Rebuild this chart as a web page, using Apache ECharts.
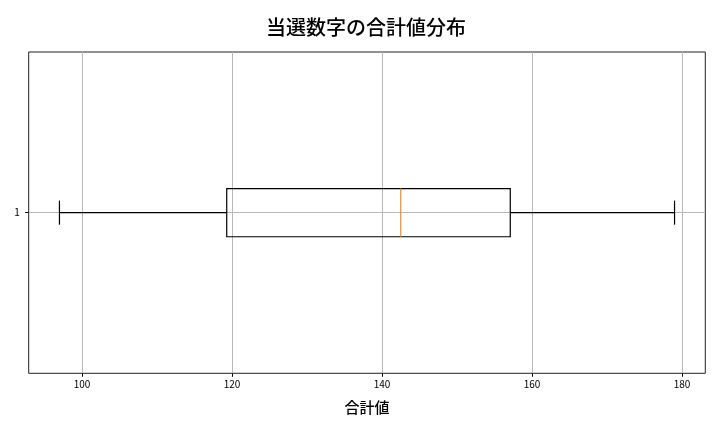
<!DOCTYPE html>
<html>
<head>
<meta charset="utf-8">
<script src="https://cdn.jsdelivr.net/npm/echarts@6/dist/echarts.min.js"></script>
<style>html,body{margin:0;padding:0;background:#fff}#c{width:720px;height:432px}</style>
</head>
<body>
<div id="c"></div>
<script>
var titleText = '当選数字の合計値分布';
var xAxisName = '合計値';
var categoryPos = [1];
var whiskerLow = [97];
var q1 = [119.3];
var median = [142.5];
var q3 = [157.1];
var whiskerHigh = [179];
var xTicks = [100, 120, 140, 160, 180];

var data = categoryPos.map(function (p, i) {
  return [p, whiskerLow[i], q1[i], median[i], q3[i], whiskerHigh[i]];
});

var chart = echarts.init(document.getElementById('c'));
var font = '"Noto Sans CJK JP", "Noto Sans", sans-serif';
chart.setOption({
  animation: false,
  backgroundColor: '#fff',
  title: {
    text: titleText, left: 361, top: 12, textAlign: 'center',
    textStyle: { fontFamily: font, fontSize: 20, fontWeight: 500, color: '#000' }
  },
  grid: { left: 28.7, right: 14.7, top: 52, bottom: 58.7, show: true, borderColor: '#222', borderWidth: 1, backgroundColor: 'transparent' },
  xAxis: {
    type: 'value', min: 92.9, max: 183.1,
    name: xAxisName, nameLocation: 'middle', nameGap: 26,
    nameTextStyle: { fontFamily: font, fontSize: 15, fontWeight: 500, color: '#000' },
    axisLine: { show: false },
    axisTick: { show: true, length: 3.5, lineStyle: { color: '#000' }, customValues: xTicks },
    axisLabel: { fontFamily: font, fontSize: 10, color: '#000', margin: 6, customValues: xTicks },
    splitLine: { show: false }
  },
  yAxis: {
    type: 'value', min: 0.5, max: 1.5,
    axisLine: { show: false },
    axisTick: { show: true, length: 3.5, lineStyle: { color: '#000' }, customValues: categoryPos },
    axisLabel: { fontFamily: font, fontSize: 10, color: '#000', margin: 9, customValues: categoryPos },
    splitLine: { show: false }
  },
  series: [{
    type: 'line', data: [], z: 0,
    markLine: {
      silent: true, symbol: 'none', label: { show: false }, z: 0,
      lineStyle: { color: '#b8b8b8', width: 1, type: 'solid' },
      data: xTicks.map(function (t) { return { xAxis: t }; }).concat(categoryPos.map(function (p) { return { yAxis: p }; }))
    }
  }, {
    type: 'custom',
    data: data,
    encode: { x: [1, 2, 3, 4, 5], y: 0 },
    z: 10,
    renderItem: function (params, api) {
      var y = api.value(0);
      var lo = api.value(1), a = api.value(2), m = api.value(3), b = api.value(4), hi = api.value(5);
      var h = api.size([0, 0.15])[1];
      var capH = api.size([0, 0.075])[1];
      var pLo = api.coord([lo, y]), pA = api.coord([a, y]), pM = api.coord([m, y]), pB = api.coord([b, y]), pHi = api.coord([hi, y]);
      var cy = pA[1];
      var black = { stroke: '#000', lineWidth: 1.2, fill: null };
      return {
        type: 'group',
        children: [
          { type: 'line', shape: { x1: pLo[0], y1: cy, x2: pA[0], y2: cy }, style: black },
          { type: 'line', shape: { x1: pB[0], y1: cy, x2: pHi[0], y2: cy }, style: black },
          { type: 'line', shape: { x1: pLo[0], y1: cy - capH / 2, x2: pLo[0], y2: cy + capH / 2 }, style: black },
          { type: 'line', shape: { x1: pHi[0], y1: cy - capH / 2, x2: pHi[0], y2: cy + capH / 2 }, style: black },
          { type: 'rect', shape: { x: pA[0], y: cy - h / 2, width: pB[0] - pA[0], height: h }, style: { stroke: '#000', lineWidth: 1.2, fill: 'rgba(0,0,0,0)' } },
          { type: 'line', shape: { x1: pM[0], y1: cy - h / 2, x2: pM[0], y2: cy + h / 2 }, style: { stroke: '#f08a24', lineWidth: 1.2 } }
        ]
      };
    }
  }]
});
</script>
</body>
</html>
